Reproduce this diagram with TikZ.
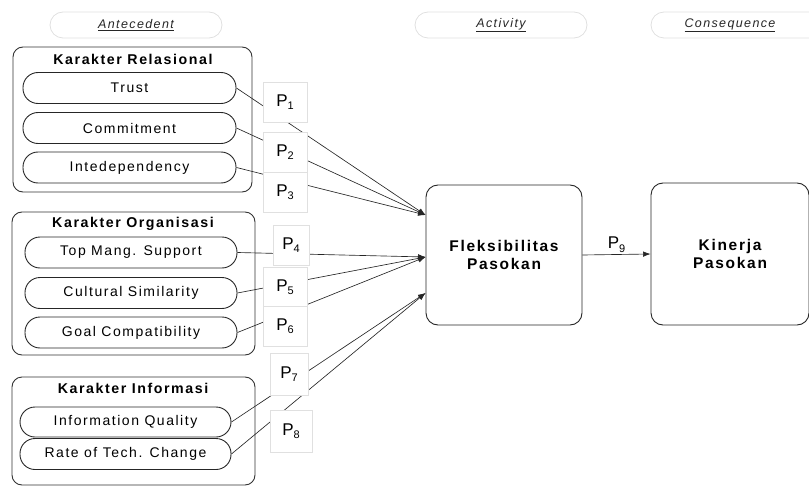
\documentclass[tikz,border=0pt]{standalone}
\usepackage{fontspec}
\setmainfont{Liberation Sans}[LetterSpace=11]
\usetikzlibrary{arrows.meta}
\newcommand{\pname}[1]{P\raisebox{-0.35ex}{\fontsize{11}{11}\selectfont #1}}
\begin{document}
\begin{tikzpicture}[x=1pt, y=-1pt,
	heading/.style={draw=black!12, line width=0.8pt, rounded corners=13pt, minimum width=172pt, minimum height=26pt, font=\fontsize{12.5}{14}\selectfont\itshape, text=black!85},
	grp/.style={draw=black!80, line width=0.9pt, rounded corners=10pt},
	grptitle/.style={font=\fontsize{14.2}{16}\selectfont\bfseries},
	pill/.style={draw=black!85, line width=0.9pt, rounded corners=15pt, minimum width=212pt, minimum height=31pt, font=\fontsize{14}{16}\selectfont},
	pbox/.style={draw=black!12, fill=white, line width=0.6pt, minimum width=44pt, minimum height=40pt, inner sep=0pt, font=\fontsize{17}{19}\selectfont},
	mainbox/.style={draw=black!85, line width=0.9pt, rounded corners=12pt, minimum width=156pt, minimum height=140pt, align=center, font=\fontsize{15.5}{18}\selectfont\bfseries},
	link/.style={draw=black!85, line width=0.65pt, -{Latex[length=7.5pt,width=5.5pt]}}]
\useasboundingbox (0,0) rectangle (809,487);

\node[heading] (hant) at (136,25) {\underline{Antecedent}};
\node[heading] (hact) at (501,25) {\underline{Activity}};
\node[heading] (hcon) at (737,25) {};
\node[font=\fontsize{12.5}{14}\selectfont\itshape, text=black!85] (hcontxt) at (730,25) {\underline{Consequence}};

\node[grp, minimum width=239pt, minimum height=145pt] (relbox) at (132.5,119.5) {};
\node[grptitle] (reltitle) at (133,59) {Karakter Relasional};
\node[pill, minimum width=213pt] (trust) at (129.5,88) {Trust};
\node[pill, minimum width=213pt] (commit) at (129.5,128) {Commitment};
\node[pill, minimum width=213pt] (interdep) at (129.5,167.5) {Intedependency};

\node[grp, minimum width=243pt, minimum height=143pt] (orgbox) at (133.5,283.5) {};
\node[grptitle] (orgtitle) at (133,224) {Karakter Organisasi};
\node[pill] (topmang) at (131,252.5) {Top Mang. Support};
\node[pill] (cultural) at (131,293) {Cultural Similarity};
\node[pill] (goal) at (131,332.5) {Goal Compatibility};

\node[grp, minimum width=243pt, minimum height=108pt] (infbox) at (133.5,431) {};
\node[grptitle] (inftitle) at (133,388) {Karakter Informasi};
\node[pill, minimum width=211pt, minimum height=30pt] (infoq) at (125.5,422) {Information Quality};
\node[pill, minimum width=211pt, minimum height=31pt] (rate) at (125.5,454) {Rate of Tech. Change};

\node[mainbox] (fleks) at (504,255) {Fleksibilitas\\Pasokan};
\node[mainbox, minimum width=158pt, minimum height=142pt] (kinerja) at (730,254) {Kinerja\\Pasokan};

\coordinate (inA) at ([yshift=40pt]fleks.west);
\coordinate (inB) at ([yshift=-2pt]fleks.west);
\coordinate (inC) at ([yshift=-38pt]fleks.west);

\draw[link] (trust.east) -- (inA);
\draw[link] (commit.east) -- (inA);
\draw[link] (interdep.east) -- (inA);
\draw[link] (topmang.east) -- (inB);
\draw[link] (cultural.east) -- (inB);
\draw[link] (goal.east) -- (inB);
\draw[link] (infoq.east) -- (inC);
\draw[link] (rate.east) -- (inC);
\draw[link] (fleks.east) -- node[above, font=\fontsize{17}{19}\selectfont, inner sep=2pt] (p9) {\pname{9}} (kinerja.west);

\node[pbox] (p1) at (285,102.5) {\pname{1}};
\node[pbox] (p2) at (285,152) {\pname{2}};
\node[pbox] (p3) at (285,192.5) {\pname{3}};
\node[pbox, minimum width=36pt] (p4) at (291,245) {\pname{4}};
\node[pbox] (p5) at (285,287) {\pname{5}};
\node[pbox] (p6) at (285,326.5) {\pname{6}};
\node[pbox, minimum width=38pt, minimum height=42pt] (p7) at (289,374) {\pname{7}};
\node[pbox, minimum width=42pt, minimum height=42pt] (p8) at (291,431) {\pname{8}};
\end{tikzpicture}
\end{document}
